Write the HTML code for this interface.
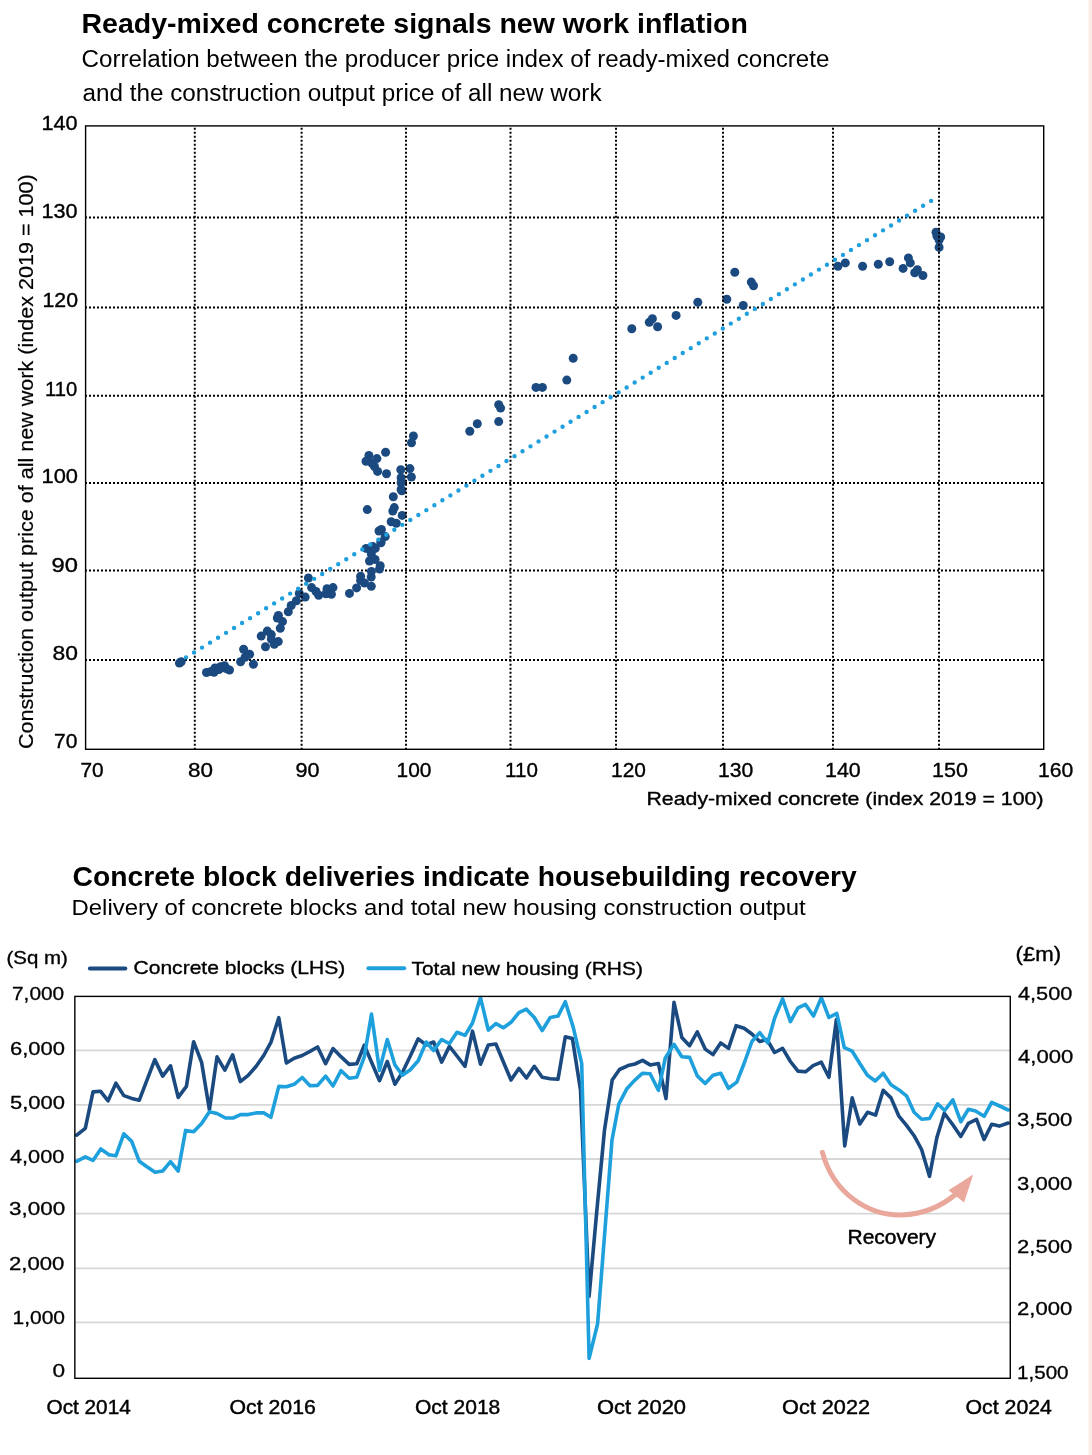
<!DOCTYPE html>
<html><head><meta charset="utf-8"><title>Concrete charts</title>
<style>html,body{margin:0;padding:0;background:#fff;}svg{display:block;}svg{will-change:transform;}</style>
</head><body>
<svg width="1092" height="1455" viewBox="0 0 1092 1455" font-family="Liberation Sans"><rect x="0" y="0" width="1092" height="1455" fill="#fff"/><rect x="1088.5" y="0" width="3.5" height="1455" fill="#fcebe7"/><text x="81.5" y="32.9" font-size="27.6" font-weight="bold" fill="#000" textLength="666.36" lengthAdjust="spacingAndGlyphs">Ready-mixed concrete signals new work inflation</text><text x="81.5" y="66.9" font-size="23.0" font-weight="normal" fill="#000" textLength="747.91" lengthAdjust="spacingAndGlyphs">Correlation between the producer price index of ready-mixed concrete</text><text x="82.5" y="101.1" font-size="23.0" font-weight="normal" fill="#000" textLength="519.03" lengthAdjust="spacingAndGlyphs">and the construction output price of all new work</text><line x1="86" y1="217.45" x2="1043" y2="217.45" stroke="#000" stroke-width="2" stroke-dasharray="2 2" stroke-dashoffset="1"/><line x1="86" y1="307.45" x2="1043" y2="307.45" stroke="#000" stroke-width="2" stroke-dasharray="2 2" stroke-dashoffset="1"/><line x1="86" y1="395.8" x2="1043" y2="395.8" stroke="#000" stroke-width="2" stroke-dasharray="2 2" stroke-dashoffset="1"/><line x1="86" y1="483" x2="1043" y2="483" stroke="#000" stroke-width="2" stroke-dasharray="2 2" stroke-dashoffset="1"/><line x1="86" y1="570.5" x2="1043" y2="570.5" stroke="#000" stroke-width="2" stroke-dasharray="2 2" stroke-dashoffset="1"/><line x1="86" y1="660" x2="1043" y2="660" stroke="#000" stroke-width="2" stroke-dasharray="2 2" stroke-dashoffset="1"/><g fill="#1b4a80"><circle cx="179.4" cy="663.1" r="4.5"/><circle cx="181.2" cy="661.8" r="4.5"/><circle cx="206.5" cy="672.5" r="4.5"/><circle cx="211" cy="671.5" r="4.5"/><circle cx="214" cy="672.3" r="4.5"/><circle cx="215" cy="668" r="4.5"/><circle cx="219" cy="669.5" r="4.5"/><circle cx="220.5" cy="666.8" r="4.5"/><circle cx="224.5" cy="665.8" r="4.5"/><circle cx="226" cy="668.5" r="4.5"/><circle cx="229.5" cy="670" r="4.5"/><circle cx="243.6" cy="649.2" r="4.5"/><circle cx="249.6" cy="654.2" r="4.5"/><circle cx="240.6" cy="661.8" r="4.5"/><circle cx="245.1" cy="657.3" r="4.5"/><circle cx="253.4" cy="664.3" r="4.5"/><circle cx="261.2" cy="636.1" r="4.5"/><circle cx="267.3" cy="631.1" r="4.5"/><circle cx="271.3" cy="634.6" r="4.5"/><circle cx="271.3" cy="639.1" r="4.5"/><circle cx="278.3" cy="641.6" r="4.5"/><circle cx="274.3" cy="644.2" r="4.5"/><circle cx="265.5" cy="646.7" r="4.5"/><circle cx="278.4" cy="615.4" r="4.5"/><circle cx="277.3" cy="618" r="4.5"/><circle cx="282.5" cy="621.6" r="4.5"/><circle cx="280.3" cy="628.2" r="4.5"/><circle cx="288.3" cy="611.7" r="4.5"/><circle cx="291.2" cy="605.5" r="4.5"/><circle cx="296.4" cy="600.8" r="4.5"/><circle cx="299.3" cy="593.4" r="4.5"/><circle cx="305.2" cy="597.1" r="4.5"/><circle cx="308.4" cy="578" r="4.5"/><circle cx="311.6" cy="587.6" r="4.5"/><circle cx="316" cy="591.5" r="4.5"/><circle cx="318.7" cy="595.3" r="4.5"/><circle cx="327" cy="588.7" r="4.5"/><circle cx="333" cy="587.6" r="4.5"/><circle cx="331.4" cy="594.2" r="4.5"/><circle cx="325.9" cy="593.7" r="4.5"/><circle cx="349.5" cy="593.4" r="4.5"/><circle cx="356.6" cy="587.9" r="4.5"/><circle cx="360.6" cy="576.3" r="4.5"/><circle cx="360.6" cy="580.5" r="4.5"/><circle cx="364.5" cy="583" r="4.5"/><circle cx="371.3" cy="586.2" r="4.5"/><circle cx="371.2" cy="577" r="4.5"/><circle cx="371.4" cy="571.4" r="4.5"/><circle cx="379.5" cy="569.1" r="4.5"/><circle cx="380.2" cy="565.8" r="4.5"/><circle cx="369.5" cy="561" r="4.5"/><circle cx="375.1" cy="559.5" r="4.5"/><circle cx="371.3" cy="554" r="4.5"/><circle cx="366.1" cy="548.4" r="4.5"/><circle cx="372.8" cy="546.6" r="4.5"/><circle cx="375.3" cy="548.4" r="4.5"/><circle cx="380.9" cy="542.8" r="4.5"/><circle cx="385.3" cy="536.6" r="4.5"/><circle cx="381" cy="542" r="4.5"/><circle cx="379" cy="531" r="4.5"/><circle cx="381.4" cy="529.5" r="4.5"/><circle cx="391.2" cy="521.7" r="4.5"/><circle cx="396.3" cy="523.3" r="4.5"/><circle cx="402.2" cy="515.4" r="4.5"/><circle cx="392.8" cy="511.1" r="4.5"/><circle cx="394.3" cy="507.6" r="4.5"/><circle cx="393.3" cy="496.8" r="4.5"/><circle cx="401.8" cy="490.7" r="4.5"/><circle cx="367.3" cy="509.6" r="4.5"/><circle cx="401.1" cy="489.4" r="4.5"/><circle cx="401.1" cy="482.8" r="4.5"/><circle cx="401.1" cy="477.7" r="4.5"/><circle cx="400.8" cy="469.7" r="4.5"/><circle cx="409.9" cy="468.6" r="4.5"/><circle cx="411.4" cy="477" r="4.5"/><circle cx="386.5" cy="473.7" r="4.5"/><circle cx="385.6" cy="452.2" r="4.5"/><circle cx="374.5" cy="466.5" r="4.5"/><circle cx="368.9" cy="455.4" r="4.5"/><circle cx="366" cy="461.2" r="4.5"/><circle cx="376.9" cy="458.6" r="4.5"/><circle cx="371.8" cy="463.1" r="4.5"/><circle cx="377.6" cy="471.4" r="4.5"/><circle cx="413.4" cy="436" r="4.5"/><circle cx="411.5" cy="442.8" r="4.5"/><circle cx="469.8" cy="431.2" r="4.5"/><circle cx="477.3" cy="423.8" r="4.5"/><circle cx="498.7" cy="404.8" r="4.5"/><circle cx="500.6" cy="408.1" r="4.5"/><circle cx="498.7" cy="421.6" r="4.5"/><circle cx="536" cy="387.4" r="4.5"/><circle cx="542.4" cy="387.4" r="4.5"/><circle cx="566.8" cy="380.1" r="4.5"/><circle cx="573.2" cy="358.3" r="4.5"/><circle cx="631.8" cy="328.8" r="4.5"/><circle cx="649.3" cy="322.3" r="4.5"/><circle cx="652.4" cy="318.8" r="4.5"/><circle cx="657.6" cy="326.7" r="4.5"/><circle cx="676.1" cy="315.4" r="4.5"/><circle cx="697.8" cy="302.3" r="4.5"/><circle cx="726.8" cy="299.3" r="4.5"/><circle cx="734.8" cy="272.2" r="4.5"/><circle cx="751.3" cy="282.1" r="4.5"/><circle cx="753.5" cy="285.8" r="4.5"/><circle cx="743.2" cy="305.5" r="4.5"/><circle cx="837.9" cy="266.2" r="4.5"/><circle cx="845.3" cy="262.9" r="4.5"/><circle cx="862.6" cy="266.2" r="4.5"/><circle cx="878.3" cy="264.2" r="4.5"/><circle cx="889.7" cy="261.8" r="4.5"/><circle cx="908.4" cy="257.9" r="4.5"/><circle cx="910.3" cy="262.9" r="4.5"/><circle cx="903.1" cy="268.4" r="4.5"/><circle cx="914.7" cy="272.7" r="4.5"/><circle cx="917.4" cy="269.7" r="4.5"/><circle cx="922.9" cy="275.5" r="4.5"/><circle cx="936" cy="232.3" r="4.5"/><circle cx="936.9" cy="236.1" r="4.5"/><circle cx="940.7" cy="236.9" r="4.5"/><circle cx="939.1" cy="240" r="4.5"/><circle cx="939.1" cy="247.4" r="4.5"/></g><line x1="194.8" y1="126" x2="194.8" y2="749" stroke="#000" stroke-width="2" stroke-dasharray="2 2" stroke-dashoffset="2.3"/><line x1="301.6" y1="126" x2="301.6" y2="749" stroke="#000" stroke-width="2" stroke-dasharray="2 2" stroke-dashoffset="2.3"/><line x1="406" y1="126" x2="406" y2="749" stroke="#000" stroke-width="2" stroke-dasharray="2 2" stroke-dashoffset="2.3"/><line x1="510.5" y1="126" x2="510.5" y2="749" stroke="#000" stroke-width="2" stroke-dasharray="2 2" stroke-dashoffset="2.3"/><line x1="616" y1="126" x2="616" y2="749" stroke="#000" stroke-width="2" stroke-dasharray="2 2" stroke-dashoffset="2.3"/><line x1="723" y1="126" x2="723" y2="749" stroke="#000" stroke-width="2" stroke-dasharray="2 2" stroke-dashoffset="2.3"/><line x1="833" y1="126" x2="833" y2="749" stroke="#000" stroke-width="2" stroke-dasharray="2 2" stroke-dashoffset="2.3"/><line x1="939" y1="126" x2="939" y2="749" stroke="#000" stroke-width="2" stroke-dasharray="2 2" stroke-dashoffset="2.3"/><line x1="186" y1="657.4" x2="939.1" y2="196" stroke="#1ea0dc" stroke-width="4.4" stroke-linecap="round" stroke-dasharray="0 9.396"/><rect x="85.6" y="125.9" width="958.1" height="623.4" fill="none" stroke="#000" stroke-width="1.4"/><text x="41.5" y="129.8" font-size="19.6" font-weight="normal" fill="#000" stroke="#000" stroke-width="0.35" textLength="36.1" lengthAdjust="spacingAndGlyphs">140</text><text x="41.5" y="217.7" font-size="19.6" font-weight="normal" fill="#000" stroke="#000" stroke-width="0.35" textLength="36.1" lengthAdjust="spacingAndGlyphs">130</text><text x="42.5" y="307.2" font-size="19.6" font-weight="normal" fill="#000" stroke="#000" stroke-width="0.35" textLength="35.5" lengthAdjust="spacingAndGlyphs">120</text><text x="45.0" y="395.7" font-size="19.6" font-weight="normal" fill="#000" stroke="#000" stroke-width="0.35" textLength="32.25" lengthAdjust="spacingAndGlyphs">110</text><text x="41.5" y="482.7" font-size="19.6" font-weight="normal" fill="#000" stroke="#000" stroke-width="0.35" textLength="36.5" lengthAdjust="spacingAndGlyphs">100</text><text x="51.5" y="571.8" font-size="19.6" font-weight="normal" fill="#000" stroke="#000" stroke-width="0.35" textLength="26.4" lengthAdjust="spacingAndGlyphs">90</text><text x="52.5" y="660.3" font-size="19.6" font-weight="normal" fill="#000" stroke="#000" stroke-width="0.35" textLength="25.4" lengthAdjust="spacingAndGlyphs">80</text><text x="54.0" y="748" font-size="19.6" font-weight="normal" fill="#000" stroke="#000" stroke-width="0.35" textLength="23.4" lengthAdjust="spacingAndGlyphs">70</text><text x="80.5" y="776.9" font-size="19.6" font-weight="normal" fill="#000" stroke="#000" stroke-width="0.35" textLength="23.2" lengthAdjust="spacingAndGlyphs">70</text><text x="188.0" y="776.9" font-size="19.6" font-weight="normal" fill="#000" stroke="#000" stroke-width="0.35" textLength="25.0" lengthAdjust="spacingAndGlyphs">80</text><text x="295.5" y="776.9" font-size="19.6" font-weight="normal" fill="#000" stroke="#000" stroke-width="0.35" textLength="24.0" lengthAdjust="spacingAndGlyphs">90</text><text x="396.5" y="776.9" font-size="19.6" font-weight="normal" fill="#000" stroke="#000" stroke-width="0.35" textLength="34.9" lengthAdjust="spacingAndGlyphs">100</text><text x="505.0" y="776.9" font-size="19.6" font-weight="normal" fill="#000" stroke="#000" stroke-width="0.35" textLength="32.85" lengthAdjust="spacingAndGlyphs">110</text><text x="611.0" y="776.9" font-size="19.6" font-weight="normal" fill="#000" stroke="#000" stroke-width="0.35" textLength="34.9" lengthAdjust="spacingAndGlyphs">120</text><text x="718.0" y="776.9" font-size="19.6" font-weight="normal" fill="#000" stroke="#000" stroke-width="0.35" textLength="35.3" lengthAdjust="spacingAndGlyphs">130</text><text x="825.0" y="776.9" font-size="19.6" font-weight="normal" fill="#000" stroke="#000" stroke-width="0.35" textLength="35.7" lengthAdjust="spacingAndGlyphs">140</text><text x="932.0" y="776.9" font-size="19.6" font-weight="normal" fill="#000" stroke="#000" stroke-width="0.35" textLength="35.9" lengthAdjust="spacingAndGlyphs">150</text><text x="1038.0" y="776.9" font-size="19.6" font-weight="normal" fill="#000" stroke="#000" stroke-width="0.35" textLength="35.3" lengthAdjust="spacingAndGlyphs">160</text><text x="646.5" y="805.4" font-size="18.6" font-weight="normal" fill="#000" stroke="#000" stroke-width="0.35" textLength="396.97" lengthAdjust="spacingAndGlyphs">Ready-mixed concrete (index 2019 = 100)</text><text transform="translate(32.6,749.0) rotate(-90)" font-size="20.0" font-weight="normal" fill="#000" stroke="#000" stroke-width="0.2" textLength="574.68" lengthAdjust="spacingAndGlyphs">Construction output price of all new work (index 2019 = 100)</text><text x="72.5" y="886.1" font-size="27.3" font-weight="bold" fill="#000" textLength="784.18" lengthAdjust="spacingAndGlyphs">Concrete block deliveries indicate housebuilding recovery</text><text x="71.5" y="914.5" font-size="22.5" font-weight="normal" fill="#000" textLength="734.21" lengthAdjust="spacingAndGlyphs">Delivery of concrete blocks and total new housing construction output</text><text x="6.5" y="963.6" font-size="18.5" font-weight="normal" fill="#000" stroke="#000" stroke-width="0.35" textLength="61.3" lengthAdjust="spacingAndGlyphs">(Sq m)</text><text x="1015.5" y="961.2" font-size="19.3" font-weight="normal" fill="#000" stroke="#000" stroke-width="0.35" textLength="45.64" lengthAdjust="spacingAndGlyphs">(£m)</text><text x="133.5" y="973.9" font-size="18.2" font-weight="normal" fill="#000" stroke="#000" stroke-width="0.35" textLength="211.75" lengthAdjust="spacingAndGlyphs">Concrete blocks (LHS)</text><text x="411.5" y="974.7" font-size="18.2" font-weight="normal" fill="#000" stroke="#000" stroke-width="0.35" textLength="231.37" lengthAdjust="spacingAndGlyphs">Total new housing (RHS)</text><line x1="89.9" y1="968.4" x2="125.3" y2="968.4" stroke="#1b4a80" stroke-width="4" stroke-linecap="round"/><line x1="368.4" y1="968.3" x2="404.2" y2="968.3" stroke="#1ea0dc" stroke-width="4" stroke-linecap="round"/><line x1="75.5" y1="1050.4" x2="1010" y2="1050.4" stroke="#d7d7d7" stroke-width="1.8"/><line x1="75.5" y1="1104.9" x2="1010" y2="1104.9" stroke="#d7d7d7" stroke-width="1.8"/><line x1="75.5" y1="1159" x2="1010" y2="1159" stroke="#d7d7d7" stroke-width="1.8"/><line x1="75.5" y1="1213.7" x2="1010" y2="1213.7" stroke="#d7d7d7" stroke-width="1.8"/><line x1="75.5" y1="1268.3" x2="1010" y2="1268.3" stroke="#d7d7d7" stroke-width="1.8"/><line x1="75.5" y1="1322.3" x2="1010" y2="1322.3" stroke="#d7d7d7" stroke-width="1.8"/><polyline points="76.7,1135.2 85.3,1128.3 93,1091.9 100.4,1091.2 108.1,1100.8 115.9,1083.2 123.8,1095.6 131.7,1098.4 139.3,1100.2 154.8,1059.6 162.7,1076.1 170.5,1065.8 178.2,1097.4 186.4,1086.4 193.6,1041.7 201.6,1062.4 209.4,1109.8 217,1056.9 224.8,1070.2 232.6,1054.8 240.3,1081.6 248.2,1075.4 256,1066.5 263.7,1055.5 270.9,1042.4 278.8,1017.7 286.4,1063 294.2,1058.2 302.2,1055.5 310,1051.4 317.6,1047 325.6,1063.7 333,1048.6 341.2,1056.9 349.2,1064.4 356.8,1063.7 364.3,1045.2 379.5,1080.7 387.3,1061.5 394.9,1084.2 402.4,1072.5 410.3,1056 418.2,1038.8 426.2,1045 433.6,1042 441.6,1062.2 449.4,1046.4 457,1056 465,1066.3 472.5,1031.2 480.5,1064.2 488.3,1045 495.9,1044 503.5,1062.2 511,1080 518.9,1068.4 526.4,1078 534.3,1066.3 542.2,1077.3 550.2,1078.7 558,1079.3 565.3,1036.7 572.4,1038.6 580.5,1090 589.1,1296.3 596.8,1211 604.5,1130 612.2,1080 619.5,1069.5 628.1,1065.6 635,1064 642.6,1060.4 650.1,1064.9 658.4,1063.5 666,1098.6 674,1002.4 681.8,1037.4 689.6,1045.7 697.3,1031.9 705.2,1049.1 713,1054.6 720.7,1042.9 728.5,1048.4 736.1,1025.7 744.1,1028.2 751.9,1034 759.7,1041.5 767,1039.5 774.6,1052.5 782.6,1048.4 790.4,1061.5 798,1071.1 805.5,1071.8 813.1,1065.6 821.3,1062.2 828.9,1077.3 836.4,1019.6 844.7,1146 852.2,1097.9 859.8,1124 867.6,1112.3 875.6,1115.1 883.2,1090.3 891,1097.9 898.7,1115.8 906.5,1125.4 914.1,1135.7 921.6,1149.5 929.5,1176.3 936.8,1137.8 944.3,1113.2 952.8,1124.8 960.8,1136.4 968.4,1123.4 976.5,1119.4 984.1,1139.5 991.7,1124.3 999.3,1126.1 1008.2,1123" fill="none" stroke="#1b4a80" stroke-width="3.6" stroke-linejoin="round" stroke-linecap="round"/><polyline points="76.7,1161.3 85.3,1156.9 93,1160.4 100.8,1149 109,1154.7 115.9,1155.8 123.8,1133.8 131.7,1141.4 139.3,1161.3 146.9,1166.8 155.1,1172.3 162.7,1171 170.5,1161.6 178.2,1171 185.6,1130.4 193.6,1131.8 201.6,1123.5 209.4,1111.8 217,1113.5 225.5,1118 233.1,1118 240.6,1114.6 248.2,1114.6 256,1112.9 263.7,1112.9 270.9,1117.3 278.8,1086.4 286.4,1086.8 294.2,1084.3 302.2,1077.5 310,1085.7 317.6,1085.4 325.6,1076.1 333,1086 341,1070.6 349.2,1078.2 356.8,1077.2 364.3,1056.9 371.5,1014.1 379.5,1070.4 387.3,1039.5 394.9,1064.9 402.4,1075.2 410.3,1069.7 418.2,1060.8 426.2,1042 433.6,1050.5 441.6,1039.5 449.4,1043.6 457,1032.3 465,1035.4 472.5,1023 480.5,997.6 488.3,1030.1 495.9,1023.7 503.5,1027.8 511,1022.3 518.9,1012.7 526.4,1009.2 534.3,1017.5 542.2,1030.5 550.2,1017.5 558,1016.1 565.3,1001.7 573.2,1027.1 581.7,1063.3 589.1,1358.4 597.6,1323.8 612,1140 618.8,1104.2 626.9,1088.7 634.3,1080.6 642.6,1073.2 650.1,1073.8 658.4,1090.3 665.3,1058 674,1044.3 681.8,1056.7 689.6,1057.4 697.3,1075.9 705.2,1083.5 713,1075.2 720.7,1073.2 728.5,1088.3 736.8,1082.1 744.1,1063.5 751.9,1041.5 759.7,1032.6 767.7,1042.9 774.6,1018.2 782.6,998.9 790.4,1021.6 798,1007.9 805.5,1004.4 813.5,1016.1 821.3,997.6 828.9,1017.5 836.8,1013.4 844.3,1047.7 852.2,1051.2 859.8,1063.5 867.4,1075.2 875.3,1081 883.2,1073.2 891,1084.8 898.7,1089.7 906.5,1095.8 914.1,1112.3 921.6,1119.2 929.5,1118.5 937.6,1103.8 944.7,1110.5 952.8,1099.8 960.8,1121.7 968.4,1109.2 975.6,1110.9 984.1,1116.3 991.7,1102.4 999.7,1106 1008.2,1110" fill="none" stroke="#1ea0dc" stroke-width="3.6" stroke-linejoin="round" stroke-linecap="round"/><rect x="74.85" y="996.4" width="935.4" height="381.9" fill="none" stroke="#000" stroke-width="1.4"/><text x="12.0" y="1000.4" font-size="19.0" font-weight="normal" fill="#000" stroke="#000" stroke-width="0.3" textLength="52.15" lengthAdjust="spacingAndGlyphs">7,000</text><text x="10.0" y="1054.6" font-size="19.0" font-weight="normal" fill="#000" stroke="#000" stroke-width="0.3" textLength="54.95" lengthAdjust="spacingAndGlyphs">6,000</text><text x="10.0" y="1109" font-size="19.0" font-weight="normal" fill="#000" stroke="#000" stroke-width="0.3" textLength="54.95" lengthAdjust="spacingAndGlyphs">5,000</text><text x="10.0" y="1163" font-size="19.0" font-weight="normal" fill="#000" stroke="#000" stroke-width="0.3" textLength="54.35" lengthAdjust="spacingAndGlyphs">4,000</text><text x="9.0" y="1215.4" font-size="19.0" font-weight="normal" fill="#000" stroke="#000" stroke-width="0.3" textLength="56.15" lengthAdjust="spacingAndGlyphs">3,000</text><text x="9.0" y="1269.5" font-size="19.0" font-weight="normal" fill="#000" stroke="#000" stroke-width="0.3" textLength="55.35" lengthAdjust="spacingAndGlyphs">2,000</text><text x="12.5" y="1323.6" font-size="19.0" font-weight="normal" fill="#000" stroke="#000" stroke-width="0.3" textLength="52.55" lengthAdjust="spacingAndGlyphs">1,000</text><text x="52.5" y="1377.4" font-size="19.0" font-weight="normal" fill="#000" stroke="#000" stroke-width="0.3" textLength="12.58" lengthAdjust="spacingAndGlyphs">0</text><text x="1018.0" y="999.6" font-size="19.0" font-weight="normal" fill="#000" stroke="#000" stroke-width="0.3" textLength="54.35" lengthAdjust="spacingAndGlyphs">4,500</text><text x="1018.0" y="1062.8" font-size="19.0" font-weight="normal" fill="#000" stroke="#000" stroke-width="0.3" textLength="55.15" lengthAdjust="spacingAndGlyphs">4,000</text><text x="1017.0" y="1126.1" font-size="19.0" font-weight="normal" fill="#000" stroke="#000" stroke-width="0.3" textLength="55.35" lengthAdjust="spacingAndGlyphs">3,500</text><text x="1017.0" y="1189.7" font-size="19.0" font-weight="normal" fill="#000" stroke="#000" stroke-width="0.3" textLength="55.15" lengthAdjust="spacingAndGlyphs">3,000</text><text x="1017.0" y="1252.5" font-size="19.0" font-weight="normal" fill="#000" stroke="#000" stroke-width="0.3" textLength="55.15" lengthAdjust="spacingAndGlyphs">2,500</text><text x="1017.0" y="1315.4" font-size="19.0" font-weight="normal" fill="#000" stroke="#000" stroke-width="0.3" textLength="55.15" lengthAdjust="spacingAndGlyphs">2,000</text><text x="1017.0" y="1378.9" font-size="19.0" font-weight="normal" fill="#000" stroke="#000" stroke-width="0.3" textLength="51.55" lengthAdjust="spacingAndGlyphs">1,500</text><text x="46.5" y="1413.8" font-size="19.8" font-weight="normal" fill="#000" stroke="#000" stroke-width="0.42" textLength="84.28" lengthAdjust="spacingAndGlyphs">Oct 2014</text><text x="229.5" y="1413.8" font-size="19.8" font-weight="normal" fill="#000" stroke="#000" stroke-width="0.42" textLength="86.28" lengthAdjust="spacingAndGlyphs">Oct 2016</text><text x="415.0" y="1413.8" font-size="19.8" font-weight="normal" fill="#000" stroke="#000" stroke-width="0.42" textLength="85.28" lengthAdjust="spacingAndGlyphs">Oct 2018</text><text x="597.0" y="1413.8" font-size="19.8" font-weight="normal" fill="#000" stroke="#000" stroke-width="0.42" textLength="89.08" lengthAdjust="spacingAndGlyphs">Oct 2020</text><text x="782.0" y="1413.8" font-size="19.8" font-weight="normal" fill="#000" stroke="#000" stroke-width="0.42" textLength="88.08" lengthAdjust="spacingAndGlyphs">Oct 2022</text><text x="965.5" y="1413.8" font-size="19.8" font-weight="normal" fill="#000" stroke="#000" stroke-width="0.42" textLength="86.48" lengthAdjust="spacingAndGlyphs">Oct 2024</text><path d="M822.4,1152.4 C834,1195 870,1216 902,1215 C925,1214 943,1205 956,1194" fill="none" stroke="#eaa89c" stroke-width="5" stroke-linecap="round"/><polygon points="973.2,1174.6 948.5,1190.3 964.1,1202.6" fill="#eaa89c"/><text x="847.5" y="1243.8" font-size="19.4" font-weight="normal" fill="#000" stroke="#000" stroke-width="0.45" textLength="88.51" lengthAdjust="spacingAndGlyphs">Recovery</text></svg>
</body></html>
